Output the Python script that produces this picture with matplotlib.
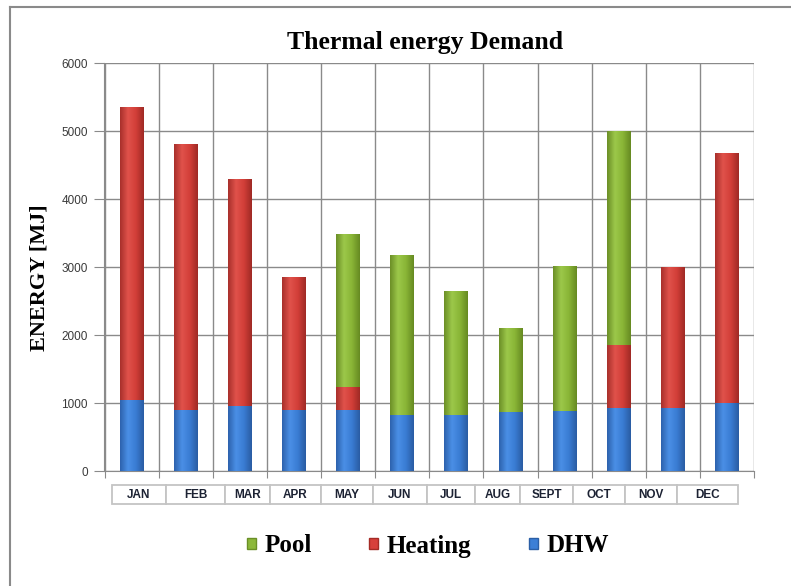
import numpy as np
import matplotlib
matplotlib.use("Agg")
import matplotlib.pyplot as plt
from matplotlib.patches import Patch
from matplotlib.lines import Line2D
from matplotlib.colors import LinearSegmentedColormap

months = ["JAN", "FEB", "MAR", "APR", "MAY", "JUN", "JUL", "AUG", "SEPT", "OCT", "NOV", "DEC"]
dhw = [1040, 900, 960, 900, 900, 830, 830, 870, 880, 920, 930, 1000]
heating = [4310, 3910, 3340, 1950, 340, 0, 0, 0, 0, 940, 2070, 3680]
pool = [0, 0, 0, 0, 2250, 2350, 1820, 1230, 2130, 3140, 0, 0]

c_dhw = "#3c7fd6"
c_heat = "#d7403b"
c_pool = "#8cb83a"
grid_c = "#8a8a8a"

# dark edge -> light centre -> dark edge, to get the glossy Excel look
shades = {
    c_dhw: ["#2d62ad", "#4a8fe6", "#3a7cd3", "#2a5ca3"],
    c_heat: ["#a8302b", "#e0524b", "#d23e38", "#9f2a25"],
    c_pool: ["#6c8f27", "#9cc84a", "#89b536", "#668a22"],
}

fig = plt.figure(figsize=(7.91, 5.86), dpi=100)
W, H = 791.0, 586.0

ax = fig.add_axes([104.5 / W, 1 - 471 / H, (754 - 104.5) / W, (471 - 63) / H])
x = np.arange(len(months))
bw = 0.44
bottoms = np.zeros(len(months))
for vals, col in [(dhw, c_dhw), (heating, c_heat), (pool, c_pool)]:
    bars = ax.bar(x, vals, bw, bottom=bottoms, color=col, linewidth=0, zorder=3)
    cmap = LinearSegmentedColormap.from_list("g", shades[col])
    grad = np.linspace(0, 1, 64).reshape(1, -1)
    for b, v in zip(bars, vals):
        if v <= 0:
            continue
        x0, y0 = b.get_x(), b.get_y()
        im = ax.imshow(grad, cmap=cmap, aspect="auto", zorder=4,
                       extent=(x0, x0 + b.get_width(), y0, y0 + b.get_height()))
        im.set_clip_path(b)
    bottoms = bottoms + np.array(vals)

ax.set_xlim(-0.5, len(months) - 0.5)
ax.set_ylim(0, 6000)
ax.set_yticks(range(0, 6001, 1000))
ax.set_xticks(np.arange(-0.5, len(months), 1.0))
ax.set_xticklabels([])
ax.grid(True, color=grid_c, linewidth=1.0, zorder=0)
ax.tick_params(axis="y", length=7, color=grid_c, labelsize=8.5, labelcolor="#3a3a3a", pad=5)
ax.tick_params(axis="x", length=5, color=grid_c)
for s in ["top", "right"]:
    ax.spines[s].set_visible(False)
for s in ["left", "bottom"]:
    ax.spines[s].set_color(grid_c)
for lbl in ax.get_yticklabels():
    lbl.set_family("Liberation Sans")

ax.set_ylabel("ENERGY [MJ]", family="Liberation Serif", fontweight="bold", fontsize=16)
ax.yaxis.set_label_coords((50 - 104.5) / (754 - 104.5), (471 - 278) / 408.0)
fig.text(425 / W, 1 - 42 / H, "Thermal energy Demand", family="Liberation Serif",
         fontweight="bold", fontsize=18.5, ha="center", va="center")

# month label box under the chart
edges = [112, 166, 225, 270, 321, 373, 427, 475, 520, 573, 625, 677, 738]
widths = np.diff(edges)
tax = fig.add_axes([112 / W, 1 - 504 / H, (738 - 112) / W, 19 / H])
tax.axis("off")
tbl = tax.table(cellText=[months], colWidths=list(widths / widths.sum()), cellLoc="center", bbox=[0, 0, 1, 1])
tbl.auto_set_font_size(False)
for (r, c), cell in tbl.get_celld().items():
    cell.set_edgecolor("#c4c4c4")
    cell.set_linewidth(1.3)
    cell.get_text().set_fontsize(8.5)
    cell.get_text().set_fontweight("bold")
    cell.get_text().set_family("Liberation Sans")
    cell.get_text().set_color("#1c2233")

handles = [Patch(facecolor=c_pool, edgecolor="#6a8f26"),
           Patch(facecolor=c_heat, edgecolor="#a42b26"),
           Patch(facecolor=c_dhw, edgecolor="#2b5fa6")]
fig.legend(handles, ["Pool", "Heating", "DHW"], loc="center", bbox_to_anchor=(428 / W, 1 - 546 / H),
           ncol=3, frameon=False, handlelength=0.35, handleheight=0.35, handletextpad=0.35,
           columnspacing=2.3, prop={"family": "Liberation Serif", "weight": "bold", "size": 18})

# outer frame
fig.add_artist(Line2D([10 / W, 1.0], [1 - 7 / H, 1 - 7 / H], color="#8a8a8a", linewidth=1.5))
fig.add_artist(Line2D([10 / W, 10 / W], [0, 1 - 7 / H], color="#8a8a8a", linewidth=1.5))

fig.savefig("out.png", dpi=100)
